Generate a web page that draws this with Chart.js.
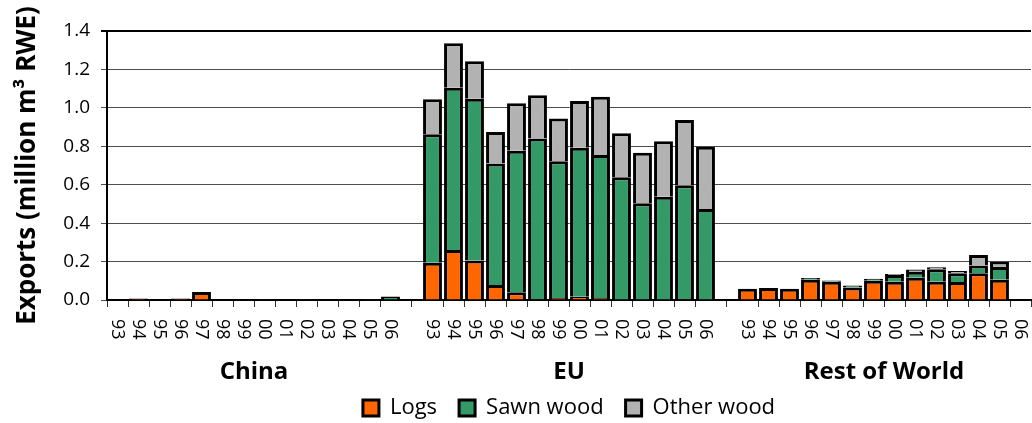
<!DOCTYPE html>
<html>
<head>
<meta charset="utf-8">
<script src="https://cdn.jsdelivr.net/npm/chart.js@4.4.1/dist/chart.umd.min.js"></script>
<style>
  html, body { margin: 0; padding: 0; background: #fff; }
  #wrap { width: 1032px; height: 423px; }
</style>
</head>
<body>
<div id="wrap"><canvas id="chart" width="1032" height="423"></canvas></div>
<script>
// years shown under each region
const years = ['93', '94', '95', '96', '97', '98', '99', '00', '01', '02', '03', '04', '05', '06'];
const regions = ['China', 'EU', 'Rest of World'];

// exports, million m3 RWE
const chinaLogs  = [0, 0.008, 0, 0.008, 0.042, 0, 0, 0, 0, 0, 0, 0, 0, 0.003];
const chinaSawn  = [0, 0, 0, 0, 0, 0, 0, 0, 0, 0, 0, 0, 0, 0.015];
const chinaOther = [0, 0, 0, 0, 0, 0, 0, 0.001, 0, 0.001, 0, 0, 0.001, 0];

const euLogs  = [0.194, 0.26, 0.205, 0.078, 0.04, 0.005, 0.01, 0.017, 0.01, 0, 0, 0, 0.005, 0];
const euSawn  = [0.668, 0.845, 0.843, 0.633, 0.737, 0.836, 0.712, 0.776, 0.745, 0.639, 0.503, 0.538, 0.592, 0.474];
const euOther = [0.183, 0.231, 0.194, 0.164, 0.247, 0.224, 0.222, 0.243, 0.303, 0.229, 0.264, 0.288, 0.34, 0.324];

const rowLogs  = [0.058, 0.062, 0.058, 0.105, 0.095, 0.065, 0.1, 0.095, 0.116, 0.095, 0.094, 0.139, 0.106, 0];
const rowSawn  = [0, 0, 0, 0.01, 0.007, 0.01, 0.01, 0.035, 0.03, 0.065, 0.045, 0.04, 0.066, 0];
const rowOther = [0, 0, 0, 0, 0, 0, 0, 0.005, 0.013, 0.01, 0.012, 0.055, 0.026, 0];

const yTicks = [0, 0.2, 0.4, 0.6, 0.8, 1.0, 1.2, 1.4];

// one blank slot between regions
const join = (a, b, c) => [...a, null, ...b, null, ...c];
const labels = join(years, years, years);

Chart.defaults.font.family = '"Open Sans", "Noto Sans", sans-serif';
Chart.defaults.color = '#000';

// rotated year labels and region names under the axis
const axisLabels = {
  id: 'axisLabels',
  afterDraw(chart) {
    const x = chart.scales.x;
    const ctx = chart.ctx;
    ctx.save();
    ctx.fillStyle = '#000';
    ctx.font = '18px "Open Sans"';
    ctx.textAlign = 'left';
    ctx.textBaseline = 'middle';
    labels.forEach((l, i) => {
      if (!l) return;
      ctx.save();
      ctx.translate(x.getPixelForValue(i), x.top + 19);
      ctx.rotate(Math.PI / 2);
      ctx.fillText(l, 0, 0);
      ctx.restore();
    });
    ctx.font = 'bold 24px "Open Sans"';
    ctx.textAlign = 'center';
    regions.forEach((r, g) => {
      const first = g * (years.length + 1);
      const last = first + years.length - 1;
      const cx = (x.getPixelForValue(first) + x.getPixelForValue(last)) / 2;
      ctx.fillText(r, cx, 372);
    });
    ctx.restore();
  }
};

const series = [
  { label: 'Logs', data: join(chinaLogs, euLogs, rowLogs), color: '#FF6600' },
  { label: 'Sawn wood', data: join(chinaSawn, euSawn, rowSawn), color: '#339966' },
  { label: 'Other wood', data: join(chinaOther, euOther, rowOther), color: '#B2B2B2' }
];

new Chart(document.getElementById('chart'), {
  type: 'bar',
  data: {
    labels: labels,
    datasets: series.map(s => ({
      label: s.label,
      data: s.data,
      backgroundColor: s.color,
      borderColor: '#000',
      borderWidth: 3,
      barPercentage: 0.9,
      categoryPercentage: 1
    }))
  },
  options: {
    responsive: false,
    animation: false,
    devicePixelRatio: 1,
    layout: { padding: { top: 31, right: 1, left: 0, bottom: 0 } },
    plugins: {
      tooltip: { enabled: false },
      legend: {
        position: 'bottom',
        fullSize: false,
        maxHeight: 48,
        labels: {
          boxWidth: 16,
          boxHeight: 16,
          padding: 22,
          font: { size: 22 },
          color: '#000'
        }
      }
    },
    scales: {
      x: {
        stacked: true,
        offset: true,
        grid: { offset: true, drawOnChartArea: false, tickLength: 7, color: '#333', lineWidth: 1 },
        border: { color: '#000', width: 2 },
        ticks: { display: false },
        afterFit(scale) { scale.height = 75; }
      },
      y: {
        stacked: true,
        min: 0,
        max: 1.4,
        afterBuildTicks(scale) { scale.ticks = yTicks.map(v => ({ value: v })); },
        afterFit(scale) { scale.width = 107; },
        ticks: {
          font: { size: 19 },
          padding: 11,
          callback: v => v.toFixed(1)
        },
        grid: {
          tickLength: 6,
          color: c => (c.tick && c.tick.value === 1.4 ? '#000' : '#4d4d4d'),
          lineWidth: c => (c.tick && c.tick.value === 1.4 ? 2 : 1)
        },
        border: { color: '#000', width: 2 },
        title: {
          display: true,
          text: 'Exports (million m³ RWE)',
          font: { size: 26, weight: 'bold' },
          padding: { top: 12, bottom: 0 }
        }
      }
    }
  },
  plugins: [axisLabels]
});
</script>
</body>
</html>
